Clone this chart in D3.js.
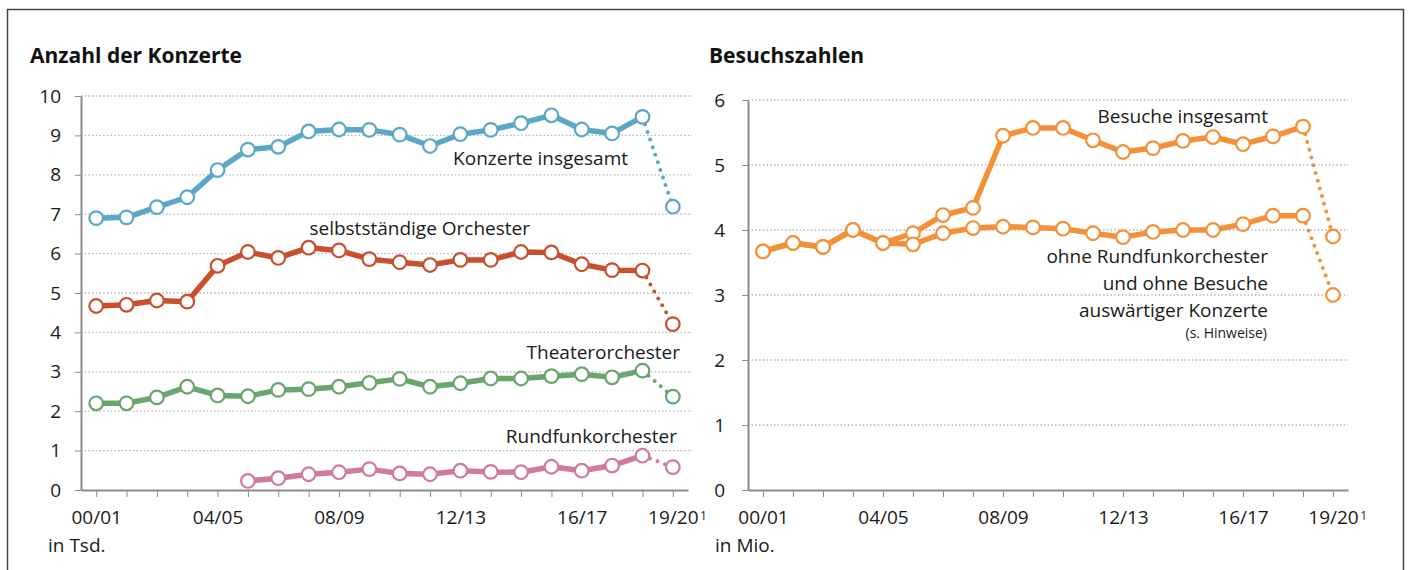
<!DOCTYPE html>
<html>
<head>
<meta charset="utf-8">
<script src="https://cdn.jsdelivr.net/npm/d3@7"></script>
<style>
  body { margin: 0; background: #fff; }
  svg { display: block; font-family: "Open Sans", "Noto Sans", sans-serif; }
  .axis path, .axis line { stroke: #8c8c8c; }
</style>
</head>
<body>
<div id="chart"></div>
<script>
// Spielzeiten
var years = ["00/01","01/02","02/03","03/04","04/05","05/06","06/07","07/08","08/09","09/10",
             "10/11","11/12","12/13","13/14","14/15","15/16","16/17","17/18","18/19","19/20"];
var shownYears = ["00/01","04/05","08/09","12/13","16/17","19/20"];

// Anzahl der Konzerte, in Tsd.
var konzerteInsgesamt = [6.90,6.92,7.18,7.43,8.12,8.64,8.71,9.10,9.15,9.14,9.02,8.73,9.03,9.14,9.31,9.51,9.15,9.05,9.47,7.19];
var selbststaendigeOrchester = [4.67,4.70,4.81,4.78,5.69,6.04,5.89,6.15,6.08,5.86,5.78,5.71,5.84,5.84,6.04,6.03,5.73,5.58,5.57,4.21];
var theaterorchester = [2.20,2.20,2.35,2.62,2.40,2.38,2.54,2.56,2.62,2.72,2.82,2.62,2.71,2.83,2.83,2.89,2.94,2.86,3.03,2.37];
var rundfunkorchester = [null,null,null,null,null,0.23,0.30,0.40,0.45,0.53,0.42,0.40,0.49,0.46,0.45,0.59,0.49,0.62,0.87,0.58];
var konzerteTicks = [0,1,2,3,4,5,6,7,8,9,10];

// Besuchszahlen, in Mio.
var besucheInsgesamt = [3.67,3.80,3.74,4.00,3.80,3.95,4.23,4.34,5.45,5.57,5.57,5.38,5.20,5.26,5.37,5.43,5.32,5.44,5.59,3.90];
var besucheOhneRundfunk = [3.67,3.80,3.74,4.00,3.80,3.78,3.95,4.03,4.05,4.04,4.02,3.95,3.89,3.97,4.00,4.00,4.09,4.22,4.22,3.00];
var besucheTicks = [0,1,2,3,4,5,6];

var W = 1411, H = 570;
var svg = d3.select("#chart").append("svg")
  .attr("width", W).attr("height", H);

// outer frame
svg.append("rect")
  .attr("x", 7.5).attr("y", 9.5)
  .attr("width", 1396).attr("height", 600)
  .attr("fill", "none")
  .attr("stroke", "#444")
  .attr("stroke-width", 1.5);

function drawPanel(opt) {
  var g = svg.append("g");
  var x = d3.scalePoint().domain(years).range(opt.xr).padding(0.5);
  var y = d3.scaleLinear().domain(opt.yd).range(opt.yr);

  // title
  g.append("text")
    .attr("x", opt.titleX).attr("y", 63)
    .attr("font-size", "21px").attr("font-weight", "bold")
    .attr("fill", "#111")
    .text(opt.title);

  // dotted grid
  g.append("g")
    .selectAll("line")
    .data(opt.ticks.filter(function(t) { return t > 0; }))
    .enter().append("line")
    .attr("x1", opt.xr[0]).attr("x2", opt.gridEnd)
    .attr("y1", function(d) { return y(d); })
    .attr("y2", function(d) { return y(d); })
    .attr("stroke", "#b5b5b5")
    .attr("stroke-width", 1.3)
    .attr("stroke-dasharray", "1.5 2.2");

  var yAxis = g.append("g")
    .attr("class", "axis")
    .attr("transform", "translate(" + opt.xr[0] + ",0)")
    .call(d3.axisLeft(y).tickValues(opt.ticks).tickFormat(d3.format("d"))
      .tickSize(6).tickSizeOuter(0).tickPadding(opt.yPad));
  yAxis.attr("font-family", null).attr("font-size", 19);
  yAxis.selectAll("text").attr("fill", "#1a1a1a");
  yAxis.select(".domain").attr("stroke-width", 2);

  var xAxis = g.append("g")
    .attr("class", "axis")
    .attr("transform", "translate(0," + opt.yr[0] + ")")
    .call(d3.axisBottom(x).tickSize(7).tickSizeOuter(0)
      .tickFormat(function(d) { return shownYears.indexOf(d) >= 0 ? d : ""; }));
  xAxis.attr("font-family", null).attr("font-size", 19);
  xAxis.select(".domain").attr("stroke-width", 2);
  xAxis.selectAll("text").attr("y", 34).attr("dy", 0).attr("fill", "#1a1a1a");

  // footnote mark on last label
  xAxis.selectAll(".tick").filter(function(d) { return d === "19/20"; })
    .each(function() {
      var t = d3.select(this).select("text");
      var w = t.node().getComputedTextLength();
      d3.select(this).append("text")
        .attr("x", w / 2 + 1.5).attr("y", 30)
        .attr("text-anchor", "start")
        .attr("font-size", 12)
        .attr("fill", "#1a1a1a")
        .text("1");
    });

  // unit label
  g.append("text")
    .attr("x", opt.unitX).attr("y", 552)
    .attr("font-size", "19px").attr("fill", "#1a1a1a")
    .text(opt.unit);

  var line = d3.line()
    .defined(function(d) { return d[1] != null; })
    .x(function(d) { return x(d[0]); })
    .y(function(d) { return y(d[1]); });

  opt.series.forEach(function(s) {
    var pts = years.map(function(yr, i) { return [yr, s.values[i]]; });
    var n = pts.length;
    var solid = pts.slice(0, n - 1);
    var tail = pts.slice(n - 2);
    g.append("path")
      .attr("d", line(solid))
      .attr("fill", "none")
      .attr("stroke", s.color)
      .attr("stroke-width", 5.5)
      .attr("stroke-linejoin", "round");
    g.append("path")
      .attr("d", line(tail))
      .attr("fill", "none")
      .attr("stroke", s.color)
      .attr("stroke-width", 4)
      .attr("stroke-linecap", "round")
      .attr("stroke-dasharray", "0 8");
    g.append("g").selectAll("circle")
      .data(pts.filter(function(d) { return d[1] != null; }))
      .enter().append("circle")
      .attr("cx", function(d) { return x(d[0]); })
      .attr("cy", function(d) { return y(d[1]); })
      .attr("r", 6.8)
      .attr("fill", "#fff")
      .attr("stroke", s.color)
      .attr("stroke-width", 2.2);
  });

  opt.labels.forEach(function(l) {
    g.append("text")
      .attr("x", l.x).attr("y", l.y)
      .attr("text-anchor", "end")
      .attr("font-size", l.size || "19px")
      .attr("fill", "#1a1a1a")
      .text(l.text);
  });
}

drawPanel({
  title: "Anzahl der Konzerte", titleX: 30,
  unit: "in Tsd.", unitX: 48,
  xr: [81, 688], gridEnd: 692,
  yd: [0, 10], yr: [490, 96], yPad: 14,
  ticks: konzerteTicks,
  series: [
    {values: konzerteInsgesamt, color: "#5aa8c6"},
    {values: selbststaendigeOrchester, color: "#c8502e"},
    {values: theaterorchester, color: "#6aa46e"},
    {values: rundfunkorchester, color: "#d17b9b"}
  ],
  labels: [
    {text: "Konzerte insgesamt", x: 628, y: 165},
    {text: "selbstständige Orchester", x: 530, y: 235},
    {text: "Theaterorchester", x: 680, y: 359},
    {text: "Rundfunkorchester", x: 677, y: 443}
  ]
});

drawPanel({
  title: "Besuchszahlen", titleX: 709,
  unit: "in Mio.", unitX: 715,
  xr: [748, 1348], gridEnd: 1348,
  yd: [0, 6], yr: [490, 100], yPad: 17,
  ticks: besucheTicks,
  series: [
    {values: besucheInsgesamt, color: "#f39138"},
    {values: besucheOhneRundfunk, color: "#f39138"}
  ],
  labels: [
    {text: "Besuche insgesamt", x: 1268, y: 123},
    {text: "ohne Rundfunkorchester", x: 1268, y: 263},
    {text: "und ohne Besuche", x: 1268, y: 290},
    {text: "auswärtiger Konzerte", x: 1268, y: 317},
    {text: "(s. Hinweise)", x: 1267, y: 338, size: "14px"}
  ]
});
</script>
</body>
</html>
